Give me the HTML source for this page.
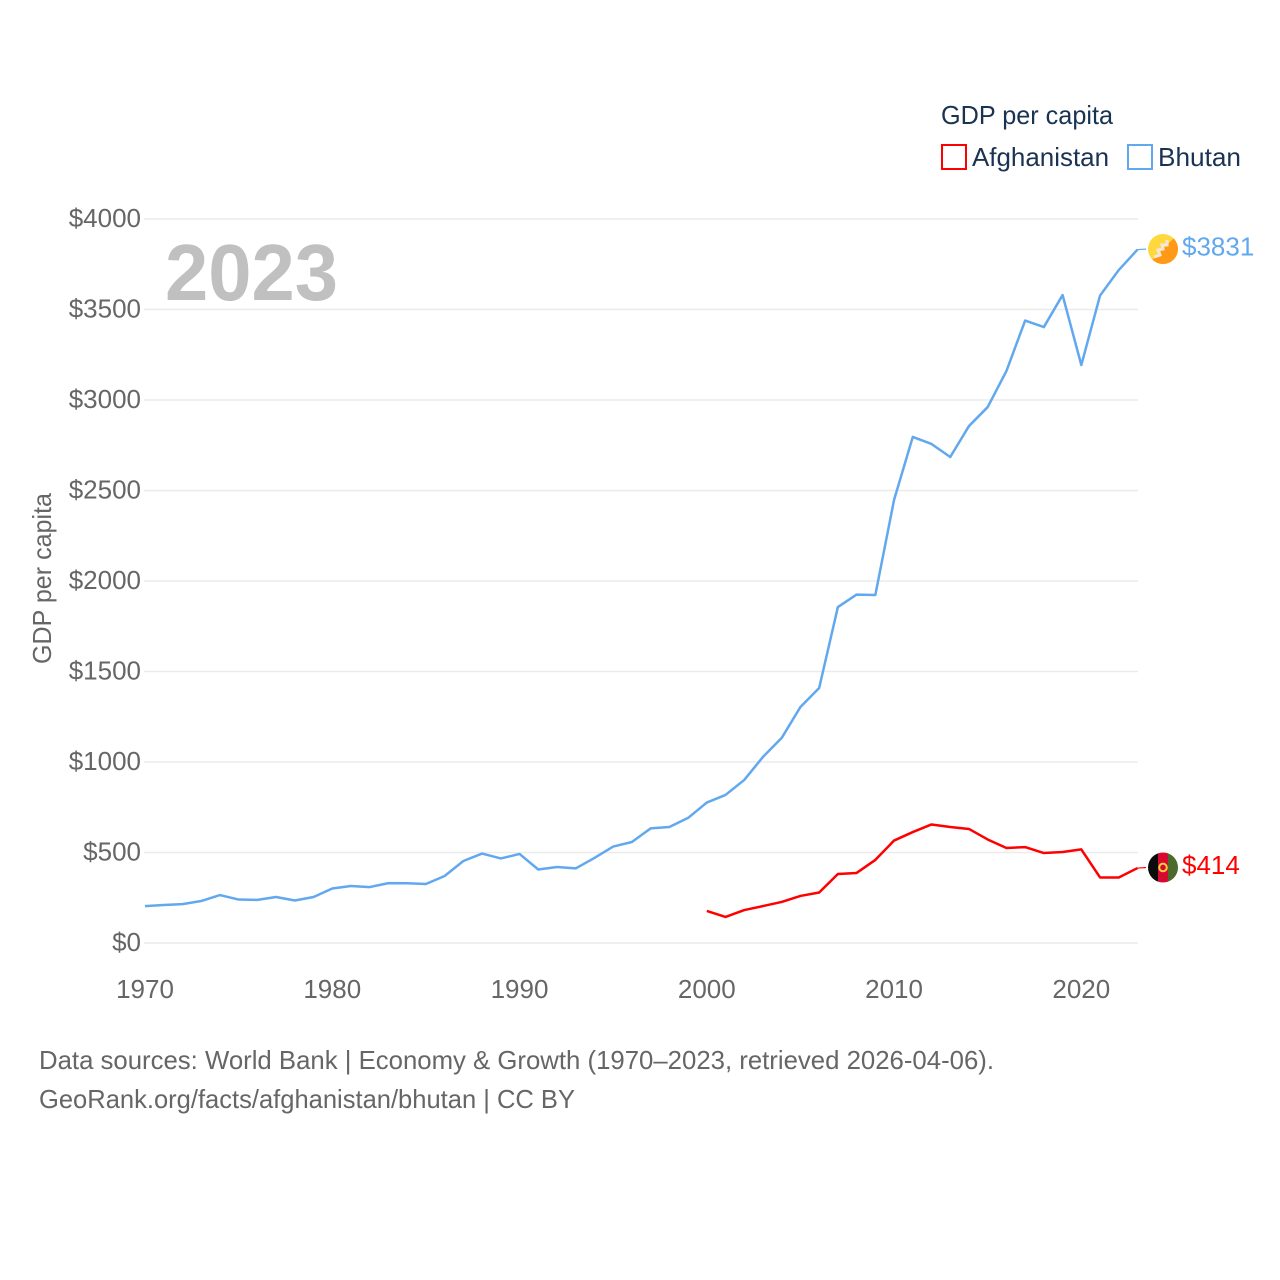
<!DOCTYPE html>
<html lang="en">
<head>
<meta charset="utf-8">
<title>GDP per capita: Afghanistan and Bhutan</title>
<style>
html,body{margin:0;padding:0;background:#fff;width:1280px;height:1280px;overflow:hidden}
svg{display:block;font-family:"Liberation Sans",sans-serif}
</style>
</head>
<body>
<svg id="chart" width="1280" height="1280" viewBox="0 0 1280 1280" xmlns="http://www.w3.org/2000/svg">
  <defs>
    <clipPath id="flag-clip"><circle cx="0" cy="0" r="15"/></clipPath>
  </defs>
  <rect width="1280" height="1280" fill="#fff"/>
  <g id="grid"></g>
  <g id="y-ticks"></g>
  <g id="x-ticks"></g>
  <text transform="translate(51,578.5) rotate(-90)" text-anchor="middle" font-size="26" fill="#666" textLength="171" lengthAdjust="spacingAndGlyphs">GDP per capita</text>
  <text x="165" y="300" font-size="80" font-weight="700" fill="#c0c0c0" textLength="173" lengthAdjust="spacingAndGlyphs">2023</text>
  <g id="series"></g>
  <g id="end-labels"></g>
  <g fill="#1a3353" font-size="26">
    <text x="941" y="124" textLength="172" lengthAdjust="spacingAndGlyphs">GDP per capita</text>
    <rect x="942" y="145" width="24" height="24" fill="none" stroke="#ff0000" stroke-width="2"/>
    <text x="972" y="166" textLength="137" lengthAdjust="spacingAndGlyphs">Afghanistan</text>
    <rect x="1128" y="145" width="24" height="24" fill="none" stroke="#61a8ef" stroke-width="2"/>
    <text x="1158" y="166" textLength="83" lengthAdjust="spacingAndGlyphs">Bhutan</text>
  </g>
  <g font-size="26" fill="#666">
    <text x="39" y="1069" textLength="955" lengthAdjust="spacingAndGlyphs">Data sources: World Bank | Economy &amp; Growth (1970–2023, retrieved 2026-04-06).</text>
    <text x="39" y="1108" textLength="536" lengthAdjust="spacingAndGlyphs">GeoRank.org/facts/afghanistan/bhutan | CC BY</text>
  </g>
</svg>
<script>
const years = [1970,1971,1972,1973,1974,1975,1976,1977,1978,1979,1980,1981,1982,1983,1984,1985,1986,1987,1988,1989,1990,1991,1992,1993,1994,1995,1996,1997,1998,1999,2000,2001,2002,2003,2004,2005,2006,2007,2008,2009,2010,2011,2012,2013,2014,2015,2016,2017,2018,2019,2020,2021,2022,2023];
const bhutanValues = [204,210,215,232,265,240,238,254,235,254,301,315,309,331,330,326,370,453,494,467,492,406,420,412,470,533,558,633,641,691,776,818,901,1028,1133,1304,1409,1856,1925,1923,2448,2796,2757,2685,2856,2961,3160,3439,3403,3580,3193,3577,3718,3831];
const afghanistanValues = [null,null,null,null,null,null,null,null,null,null,null,null,null,null,null,null,null,null,null,null,null,null,null,null,null,null,null,null,null,null,177,144,182,204,227,260,279,381,387,459,566,613,655,641,630,572,525,530,497,503,517,362,362,414];
const yTickValues = [0,500,1000,1500,2000,2500,3000,3500,4000];
const xTickValues = [1970,1980,1990,2000,2010,2020];

const NS = 'http://www.w3.org/2000/svg';
const BLUE = '#61a8ef';
const RED = '#ff0000';
function xScale(year){ return 145 + (year - 1970) * (1137.5 - 145) / 53; }
function yScale(value){ return 943 - value * 0.181; }
function make(tag, parent){
  const el = document.createElementNS(NS, tag);
  parent.appendChild(el);
  return el;
}

const gridGroup = document.getElementById('grid');
const yGroup = document.getElementById('y-ticks');
yTickValues.forEach(function(v){
  const line = make('line', gridGroup);
  
  
  line.setAttribute('x1', 144);
  line.setAttribute('x2', 1138);
  line.setAttribute('y1', yScale(v));
  line.setAttribute('y2', yScale(v));
  line.setAttribute('stroke', '#ebebeb');
  line.setAttribute('stroke-width', 1.5);
  const label = make('text', yGroup);
  
  
  label.setAttribute('x', 141);
  label.setAttribute('y', yScale(v) + 8);
  label.setAttribute('text-anchor', 'end');
  label.setAttribute('font-size', 26);
  label.setAttribute('fill', '#666');
  label.textContent = '$' + v;
});

const xGroup = document.getElementById('x-ticks');
xTickValues.forEach(function(v){
  const label = make('text', xGroup);
  
  
  label.setAttribute('x', xScale(v));
  label.setAttribute('y', 998);
  label.setAttribute('text-anchor', 'middle');
  label.setAttribute('font-size', 26);
  label.setAttribute('fill', '#666');
  label.textContent = v;
});

function drawSeries(values, color, key){
  const group = document.getElementById('series');
  let d = '';
  let lastValue = null;
  values.forEach(function(v, i){
    if (v === null) return;
    d += (d ? 'L' : 'M') + xScale(years[i]).toFixed(2) + ' ' + yScale(v).toFixed(2);
    lastValue = v;
  });
  const path = make('path', group);
  
  
  path.setAttribute('d', d);
  path.setAttribute('fill', 'none');
  path.setAttribute('stroke', color);
  path.setAttribute('stroke-width', 2.5);
  path.setAttribute('stroke-linejoin', 'round');
  const labels = document.getElementById('end-labels');
  const yEnd = yScale(lastValue);
  const connector = make('line', labels);
  
  
  connector.setAttribute('x1', xScale(years[years.length - 1]));
  connector.setAttribute('x2', 1146);
  connector.setAttribute('y1', yEnd);
  connector.setAttribute('y2', yEnd - 0.5);
  connector.setAttribute('stroke', color);
  connector.setAttribute('stroke-width', 1.2);
  const flag = make('g', labels);
  
  
  flag.setAttribute('transform', 'translate(1163,' + (yEnd - 0.6) + ')');
  flag.setAttribute('clip-path', 'url(#flag-clip)');
  if (key === 'bhutan') {
    flag.innerHTML = '<rect x="-15" y="-15" width="30" height="30" fill="#ffd83d"/>' +
      '<path d="M15 -15L15 15L-15 15Z" fill="#ff9a17"/>' +
      '<path d="M-9 8L-3 6L-5 1L0 0L-1 -4L4 -4L4 -9" fill="none" stroke="#f7e6d8" stroke-width="3"/>';
  } else {
    flag.innerHTML = '<rect x="-15" y="-15" width="10" height="30" fill="#0b0b0b"/>' +
      '<rect x="-5" y="-15" width="10" height="30" fill="#d60a2e"/>' +
      '<rect x="5" y="-15" width="10" height="30" fill="#4a6b2c"/>' +
      '<circle cx="0" cy="0" r="3.8" fill="none" stroke="#f5d33f" stroke-width="2"/>';
  }
  const text = make('text', labels);
  
  
  text.setAttribute('x', 1182);
  text.setAttribute('y', yEnd + 6);
  text.setAttribute('font-size', 26);
  text.setAttribute('fill', color);
  text.textContent = '$' + lastValue;
}
drawSeries(afghanistanValues, RED, 'afghanistan');
drawSeries(bhutanValues, BLUE, 'bhutan');
</script>
</body>
</html>
